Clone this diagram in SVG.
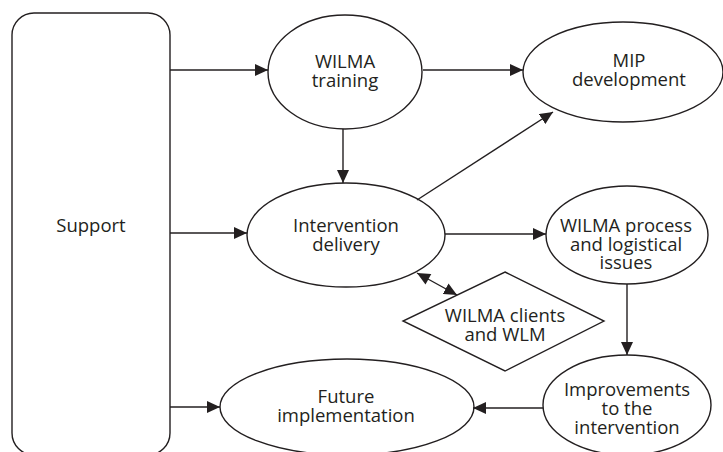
<svg xmlns="http://www.w3.org/2000/svg" width="723" height="452" viewBox="0 0 723 452">
<style>
.n{fill:#fff;stroke:#231f20;stroke-width:1.4}
.c line{stroke:#231f20;stroke-width:1.4;marker-end:url(#ah)}
text{font-family:"Open Sans","Liberation Sans",sans-serif;font-size:18.5px;fill:#231f20;text-anchor:middle}
</style>
<defs>
<marker id="ah" markerUnits="userSpaceOnUse" markerWidth="14" markerHeight="12" refX="13" refY="6" orient="auto">
<path d="M0,0 L13,6 L0,12 Z" fill="#231f20"/>
</marker>
<marker id="as" markerUnits="userSpaceOnUse" markerWidth="14" markerHeight="12" refX="0" refY="6" orient="auto">
<path d="M13,0 L0,6 L13,12 Z" fill="#231f20"/>
</marker>
</defs>
<g id="support"><rect class="n" x="12" y="13" width="158" height="442" rx="22"/><text x="91" y="232">Support</text></g>
<g id="training"><ellipse class="n" cx="345" cy="72" rx="77" ry="57"/><text x="345" y="68">WILMA</text><text x="345" y="86.5">training</text></g>
<g id="mip"><ellipse class="n" cx="623" cy="72" rx="100" ry="50"/><text x="629" y="67">MIP</text><text x="629" y="85.5">development</text></g>
<g id="intervention"><ellipse class="n" cx="346" cy="235" rx="99" ry="52"/><text x="346" y="232">Intervention</text><text x="346" y="250.5">delivery</text></g>
<g id="process"><ellipse class="n" cx="627" cy="235" rx="81" ry="49"/><text x="626" y="232">WILMA process</text><text x="626" y="250.5">and logistical</text><text x="626" y="269">issues</text></g>
<g id="clients"><polygon class="n" points="505,272 604,321 505,371 403,321"/><text x="505" y="322">WILMA clients</text><text x="505" y="341">and WLM</text></g>
<g id="improvements"><ellipse class="n" cx="627" cy="405" rx="84" ry="50"/><text x="627" y="396">Improvements</text><text x="627" y="415">to the</text><text x="627" y="434">intervention</text></g>
<g id="future"><ellipse class="n" cx="347" cy="407" rx="127" ry="48"/><text x="346" y="403">Future</text><text x="346" y="422">implementation</text></g>
<g id="connectors" class="c">
<line x1="170" y1="70" x2="268" y2="70"/>
<line x1="170" y1="233" x2="247" y2="233"/>
<line x1="170" y1="407" x2="220" y2="407"/>
<line x1="423" y1="70" x2="523" y2="70"/>
<line x1="343" y1="129" x2="343" y2="183"/>
<line x1="417" y1="200" x2="553" y2="112"/>
<line x1="445" y1="234" x2="546" y2="234"/>
<line x1="627" y1="284" x2="627" y2="355"/>
<line x1="543" y1="408" x2="473" y2="408"/>
<line x1="417" y1="273" x2="457" y2="295" marker-start="url(#as)"/>
</g>
</svg>
